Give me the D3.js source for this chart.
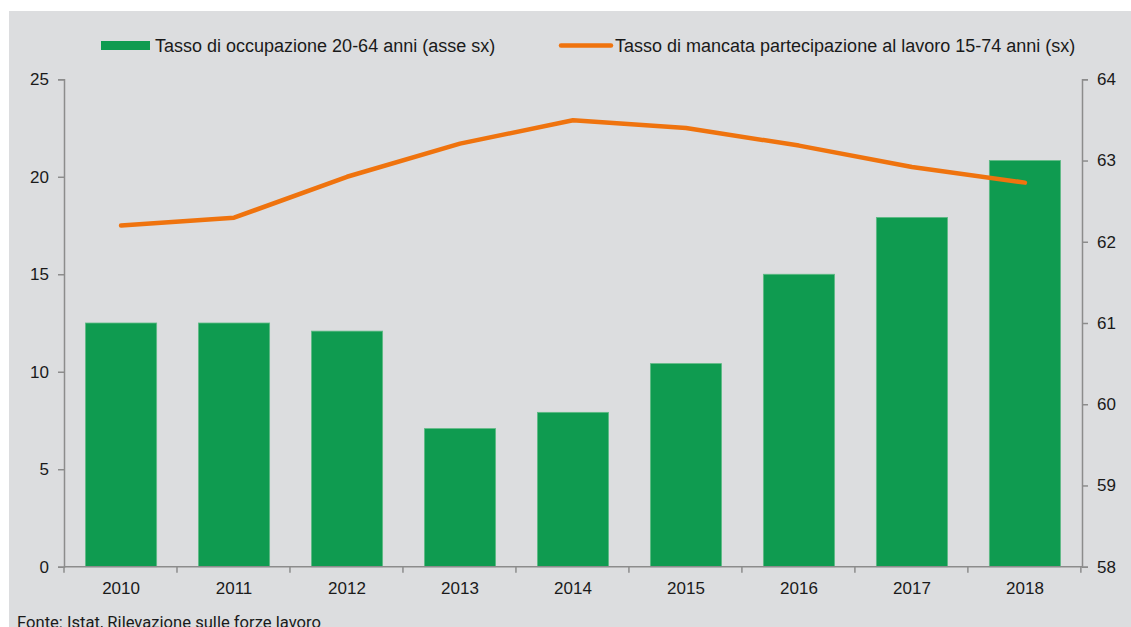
<!DOCTYPE html>
<html>
<head>
<meta charset="utf-8">
<script src="https://cdn.jsdelivr.net/npm/d3@7"></script>
<style>
  body { margin: 0; background: #fff; }
  svg { display: block; font-family: "Liberation Sans", Arial, sans-serif; }
  .axis text { font-size: 17px; fill: #1a1a1a; }
  .axis path, .axis line { stroke: #8c8c8c; stroke-width: 1.5; }
  .legend text { font-size: 18px; fill: #1a1a1a; }
</style>
</head>
<body>
<div class="svg-container"></div>
<script>
// data
const years = ['2010', '2011', '2012', '2013', '2014', '2015', '2016', '2017', '2018'];
const occupazione = [61.0, 61.0, 60.9, 59.7, 59.9, 60.5, 61.6, 62.3, 63.0];
const mancataPartecipazione = [17.5, 17.9, 20.0, 21.7, 22.9, 22.5, 21.6, 20.5, 19.7];
const leftTicks = [0, 5, 10, 15, 20, 25];
const rightTicks = [58, 59, 60, 61, 62, 63, 64];
const legendLabels = [
  'Tasso di occupazione 20-64 anni (asse sx)',
  'Tasso di mancata partecipazione al lavoro 15-74 anni (sx)'
];
const source = 'Fonte: Istat, Rilevazione sulle forze lavoro';

// dimensions
const width = 1131;
const height = 627;
const plot = { left: 64, right: 1082, top: 79.3, bottom: 566.7 };
const green = '#0f9b50';
const orange = '#ef730e';

const svg = d3.select('.svg-container')
  .append('svg')
  .attr('width', width)
  .attr('height', height);

// background panel
svg.append('rect')
  .attr('x', 9)
  .attr('y', 11)
  .attr('width', width - 9)
  .attr('height', height - 11)
  .attr('fill', '#dcdddf');

// scales
const x = d3.scaleBand()
  .domain(years)
  .range([plot.left, plot.right])
  .paddingInner(0.37)
  .paddingOuter(0.19);

const yLeft = d3.scaleLinear()
  .domain([0, 25])
  .range([plot.bottom, plot.top]);

const yRight = d3.scaleLinear()
  .domain([58, 64])
  .range([plot.bottom, plot.top]);

// bars
svg.append('g')
  .selectAll('rect')
  .data(years)
  .enter()
  .append('rect')
  .attr('x', d => x(d))
  .attr('y', (d, i) => yRight(occupazione[i]))
  .attr('width', x.bandwidth())
  .attr('height', (d, i) => plot.bottom - yRight(occupazione[i]))
  .attr('fill', green)
  .attr('stroke', '#5fbb85')
  .attr('stroke-width', 0.8);

// line
const line = d3.line()
  .x((d, i) => x(years[i]) + x.bandwidth() / 2)
  .y(d => yLeft(d));

svg.append('path')
  .datum(mancataPartecipazione)
  .attr('d', line)
  .attr('fill', 'none')
  .attr('stroke', orange)
  .attr('stroke-width', 4.5)
  .attr('stroke-linecap', 'round')
  .attr('stroke-linejoin', 'round');

// left axis
svg.append('g')
  .attr('class', 'axis')
  .attr('transform', `translate(${plot.left},0)`)
  .call(d3.axisLeft(yLeft).tickValues(leftTicks).tickFormat(d3.format('d')).tickSize(6).tickPadding(9));

// right axis
svg.append('g')
  .attr('class', 'axis')
  .attr('transform', `translate(${plot.right},0)`)
  .call(d3.axisRight(yRight).tickValues(rightTicks).tickFormat(d3.format('d')).tickSize(6).tickPadding(9));

// bottom axis: ticks between the categories
const xAxis = svg.append('g').attr('class', 'axis');

xAxis.append('path')
  .attr('d', `M${plot.left},${plot.bottom}H${plot.right}`);

xAxis.selectAll('line')
  .data(d3.range(years.length + 1))
  .enter()
  .append('line')
  .attr('x1', i => plot.left + i * x.step())
  .attr('x2', i => plot.left + i * x.step())
  .attr('y1', plot.bottom)
  .attr('y2', plot.bottom + 6);

xAxis.selectAll('text')
  .data(years)
  .enter()
  .append('text')
  .attr('x', d => x(d) + x.bandwidth() / 2)
  .attr('y', 593.5)
  .attr('text-anchor', 'middle')
  .text(d => d);

// legend
const legend = svg.append('g').attr('class', 'legend');

legend.append('rect')
  .attr('x', 101)
  .attr('y', 41)
  .attr('width', 49)
  .attr('height', 9)
  .attr('fill', green);

legend.append('line')
  .attr('x1', 561)
  .attr('x2', 611)
  .attr('y1', 45.5)
  .attr('y2', 45.5)
  .style('stroke', orange)
  .style('stroke-width', 4.5)
  .style('stroke-linecap', 'round');

legend.selectAll('text')
  .data(legendLabels)
  .enter()
  .append('text')
  .attr('x', (d, i) => i === 0 ? 155 : 615)
  .attr('y', 52)
  .text(d => d);

// source note (cut off at the bottom edge, as in the original)
svg.append('text')
  .attr('x', 17)
  .attr('y', 628)
  .attr('font-family', '"Liberation Sans Narrow", "Roboto", sans-serif')
  .attr('font-size', 17)
  .attr('fill', '#1a1a1a')
  .attr('textLength', 304)
  .attr('lengthAdjust', 'spacingAndGlyphs')
  .text(source);
</script>
</body>
</html>
